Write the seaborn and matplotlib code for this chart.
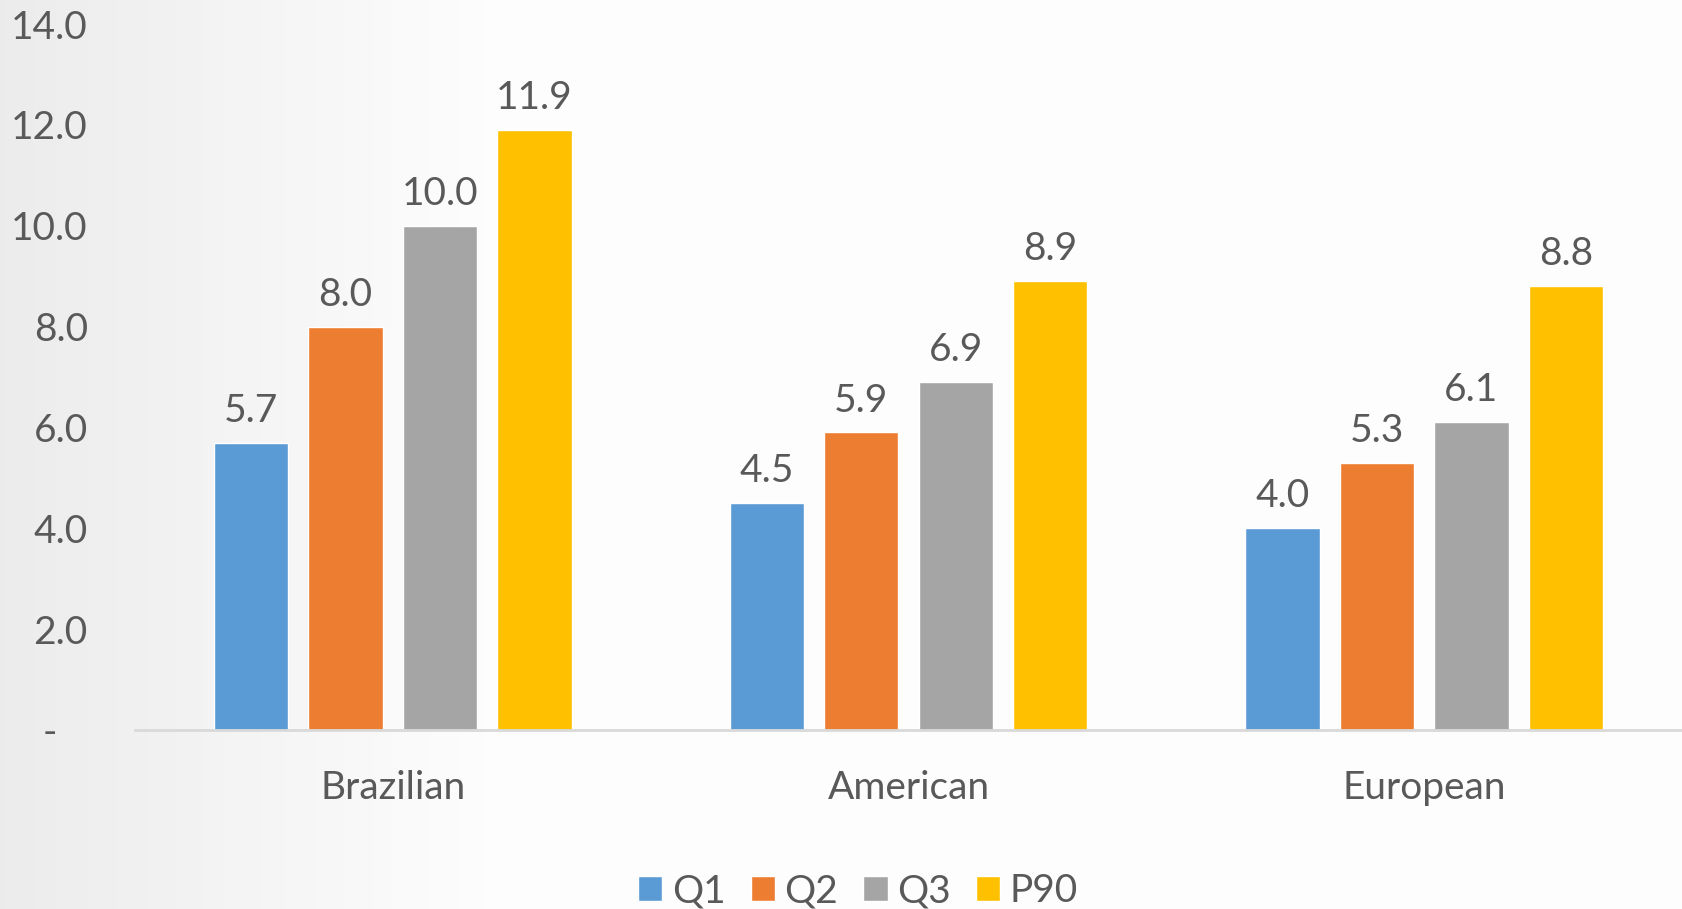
import numpy as np
import pandas as pd
import matplotlib
matplotlib.use("Agg")
import matplotlib.pyplot as plt
import seaborn as sns

categories = ["Brazilian", "American", "European"]
series = ["Q1", "Q2", "Q3", "P90"]
q1 = [5.7, 4.5, 4.0]
q2 = [8.0, 5.9, 5.3]
q3 = [10.0, 6.9, 6.1]
p90 = [11.9, 8.9, 8.8]
yticks = [0, 2, 4, 6, 8, 10, 12, 14]
colors = ["#5B9BD5", "#ED7D31", "#A5A5A5", "#FFC000"]

rows = []
for s, vals in zip(series, [q1, q2, q3, p90]):
    for c, v in zip(categories, vals):
        rows.append({"category": c, "series": s, "value": v})
df = pd.DataFrame(rows)

sns.set_style("white")
plt.rcParams["font.family"] = ["Lato", "DejaVu Sans"]
text_color = "#595959"
fs = 28

fig = plt.figure(figsize=(16.82, 9.09), dpi=100)
# subtle background gradient
bg = fig.add_axes([0, 0, 1, 1], zorder=-10)
grad = np.linspace(0, 1, 400)
g = np.clip(grad / 0.3, 0, 1)
col = 0.925 + (0.995 - 0.925) * g
img = np.tile(col, (10, 1))
bg.imshow(np.dstack([img, img, img]), aspect="auto", extent=[0, 1, 0, 1])
bg.axis("off")

ax = fig.add_axes([135 / 1682, 179 / 909, 1 - 135 / 1682, (730 - 24) / 909])
ax.patch.set_alpha(0)

sns.barplot(data=df, x="category", y="value", hue="series", order=categories,
            hue_order=series, palette=colors, width=0.733, gap=0.215,
            saturation=1, ax=ax, legend=True)

for cont in ax.containers:
    ax.bar_label(cont, labels=[f"{b.get_height():.1f}" for b in cont],
                 padding=10, fontsize=fs, color=text_color)

ax.set_xlim(-0.5, 2.5)
ax.set_ylim(0, 14)
ax.set_yticks(yticks)
ax.set_yticklabels(["-   " if t == 0 else f"{t:.1f}" for t in yticks])
ax.set_xlabel("")
ax.set_ylabel("")
ax.tick_params(axis="y", length=0, pad=34, labelsize=fs, labelcolor=text_color)
ax.tick_params(axis="x", length=0, pad=29, labelsize=fs, labelcolor=text_color)
for sp in ["top", "right", "left"]:
    ax.spines[sp].set_visible(False)
ax.spines["bottom"].set_color("#d9d9d9")
ax.spines["bottom"].set_linewidth(2)

leg = ax.get_legend()
handles = leg.legend_handles
leg.remove()
fig.legend(handles, series, loc="center", bbox_to_anchor=(858 / 1682, 1 - 891 / 909),
           ncol=4, frameon=False, fontsize=fs, labelcolor=text_color,
           handlelength=0.62, handleheight=0.62, handletextpad=0.25, columnspacing=0.65)

fig.savefig("out.png", dpi=100)
